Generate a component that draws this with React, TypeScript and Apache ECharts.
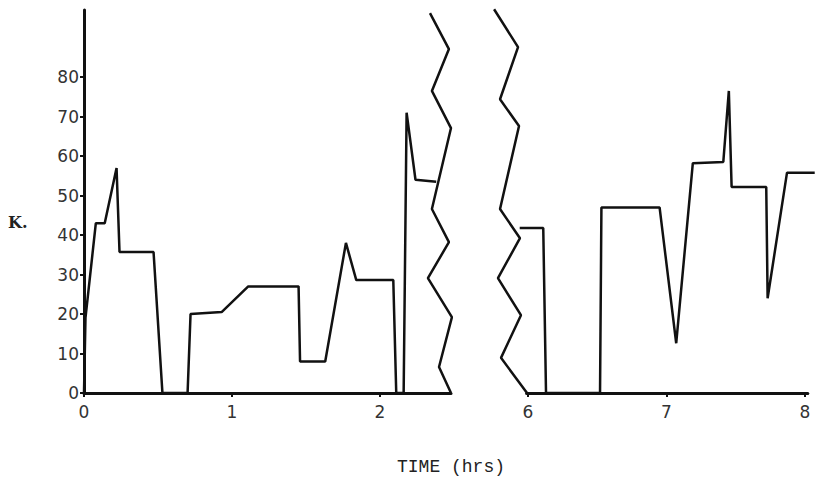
import React, { useEffect, useRef } from "react";
import * as echarts from "echarts";

// Left panel (0 – 2.5 hrs)
const leftData: [number, number][] = [
  [0, 0], [0.01, 19], [0.08, 43], [0.14, 43], [0.22, 57], [0.24, 35.7], [0.47, 35.7],
  [0.53, 0], [0.7, 0], [0.72, 20], [0.93, 20.5], [1.11, 27], [1.45, 27], [1.46, 8],
  [1.63, 8], [1.77, 38], [1.84, 28.6], [2.09, 28.6], [2.11, 0], [2.16, 0], [2.18, 71],
  [2.24, 54], [2.38, 53.5],
];
// Right panel (6 – 8 hrs)
const rightData: [number, number][] = [
  [5.94, 41.8], [6.11, 41.8], [6.13, 0], [6.52, 0], [6.53, 47], [6.95, 47], [7.07, 12.6],
  [7.19, 58.2], [7.41, 58.5], [7.45, 76.5], [7.47, 52.2], [7.72, 52.2], [7.73, 24],
  [7.87, 55.8], [8.07, 55.8],
];
// Axis-break zigzags
const leftBreak: [number, number][] = [
  [2.338, 96.2], [2.466, 87.1], [2.351, 76.5], [2.48, 67.1], [2.351, 46.6], [2.466, 38.2],
  [2.324, 29.1], [2.486, 19.2], [2.399, 6.6], [2.48, 0],
];
const rightBreak: [number, number][] = [
  [5.755, 97.2], [5.928, 87.6], [5.798, 74.4], [5.935, 67.6], [5.798, 46.6], [5.942, 39.2],
  [5.783, 29.1], [5.949, 19.7], [5.805, 8.9], [5.993, 0],
];
const yTicks = [0, 10, 20, 30, 40, 50, 60, 70, 80];
const leftXTicks = [0, 1, 2];
const rightXTicks = [6, 7, 8];
const yLabel = "K.";
const xLabel = "TIME (hrs)";

export default function App() {
  const ref = useRef<HTMLDivElement>(null);
  useEffect(() => {
    if (!ref.current) return;
    const chart = echarts.init(ref.current, null, { renderer: "svg" });
    const ink = "#111";
    const lineStyle = { color: ink, width: 2.5 };
    const labelStyle = {
      color: "#333",
      fontFamily: "DejaVu Sans",
      fontSize: 17,
    };
    const visibleX = (min: number, max: number, ticks: number[], gridIndex: number) => ({
      type: "value",
      gridIndex,
      min,
      max,
      axisLine: { show: true, lineStyle: { color: ink, width: 3 } },
      axisTick: { show: true, customValues: ticks, length: 4, lineStyle: { color: ink, width: 2 } },
      axisLabel: { show: true, customValues: ticks, margin: 10, ...labelStyle },
      splitLine: { show: false },
    });
    chart.setOption({
      animation: false,
      backgroundColor: "#fff",
      grid: [
        { left: 84, top: 10, width: 367, height: 383 },
        { left: 492, top: 10, width: 324.1, height: 383 },
        { left: 526.6, top: 10, width: 281.2, height: 383 },
      ],
      xAxis: [
        visibleX(0, 2.48, leftXTicks, 0),
        { type: "value", gridIndex: 1, min: 5.74, max: 8.08, show: false },
        visibleX(5.99, 8.02, rightXTicks, 2),
      ],
      yAxis: [
        {
          type: "value",
          gridIndex: 0,
          min: 0,
          max: 97,
          axisLine: { show: true, lineStyle: { color: ink, width: 3 } },
          axisTick: { show: true, customValues: yTicks, length: 4, lineStyle: { color: ink, width: 2 } },
          axisLabel: { show: true, customValues: yTicks, margin: 5, ...labelStyle },
          splitLine: { show: false },
        },
        { type: "value", gridIndex: 1, min: 0, max: 97, show: false },
        { type: "value", gridIndex: 2, min: 0, max: 97, show: false },
      ],
      series: [
        { type: "line", xAxisIndex: 0, yAxisIndex: 0, data: leftData, showSymbol: false, symbol: "none", clip: false, lineStyle },
        { type: "line", xAxisIndex: 0, yAxisIndex: 0, data: leftBreak, showSymbol: false, symbol: "none", clip: false, lineStyle },
        { type: "line", xAxisIndex: 1, yAxisIndex: 1, data: rightData, showSymbol: false, symbol: "none", clip: false, lineStyle },
        { type: "line", xAxisIndex: 1, yAxisIndex: 1, data: rightBreak, showSymbol: false, symbol: "none", clip: false, lineStyle },
      ],
      graphic: [
        {
          type: "text",
          left: 8,
          top: 214,
          style: { text: yLabel, fill: "#222", font: "bold 16px 'DejaVu Serif'" },
        },
        {
          type: "text",
          left: 397,
          top: 458,
          style: { text: xLabel, fill: "#222", font: "18px 'Liberation Mono'" },
        },
      ],
    });
    return () => chart.dispose();
  }, []);
  return (
    <div
      ref={ref}
      style={{ position: "fixed", left: 0, top: 0, width: 817, height: 482, background: "#fff" }}
    />
  );
}
